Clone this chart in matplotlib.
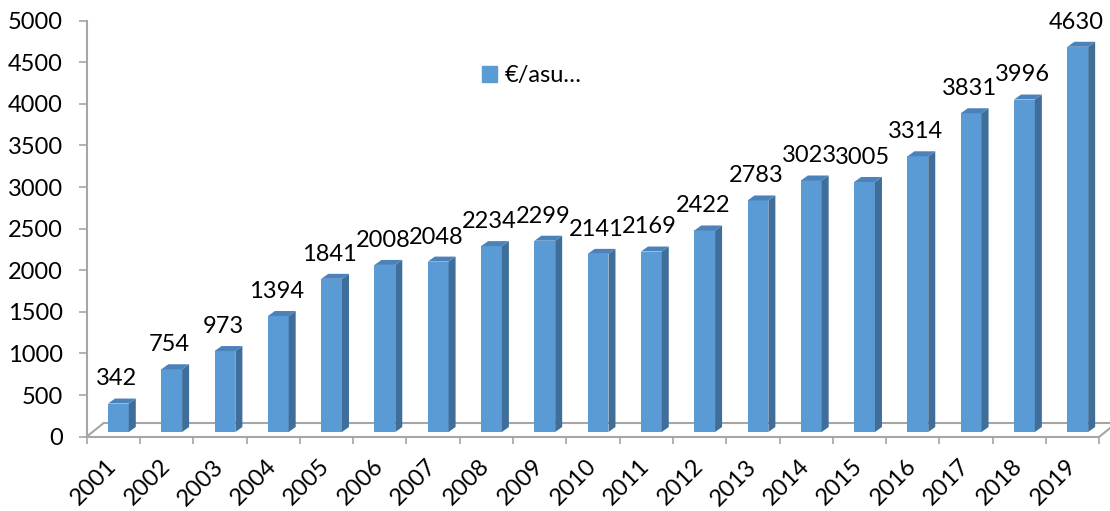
import matplotlib
matplotlib.use('Agg')
import matplotlib.pyplot as plt
from matplotlib.patches import Polygon, Patch
import numpy as np

plt.rcParams['font.family'] = ['Lato', 'DejaVu Sans']

# Data
years = ['2001', '2002', '2003', '2004', '2005', '2006', '2007', '2008', '2009', '2010',
         '2011', '2012', '2013', '2014', '2015', '2016', '2017', '2018', '2019']
values = [342, 754, 973, 1394, 1841, 2008, 2048, 2234, 2299, 2141,
          2169, 2422, 2783, 3023, 3005, 3314, 3831, 3996, 4630]
series_name = '€/asu…'
y_ticks = [0, 500, 1000, 1500, 2000, 2500, 3000, 3500, 4000, 4500, 5000]

# Colours
FRONT = '#5B9BD5'
SIDE = '#3F6E9A'
TOP = '#4C82BA'
GREY = '#A6A6A6'
FS = 17

n = len(years)
fig = plt.figure(figsize=(11.1, 5.11), dpi=100)
ax = fig.add_axes([0.0781, 0.1454, 0.9123, 0.8141])
ax.set_xlim(0, n)
ax.set_ylim(0, y_ticks[-1])

# pixel -> data unit factors (for the fake 3d depth)
pos = ax.get_position()
ux = n / (pos.width * fig.get_figwidth() * fig.dpi)
uy = y_ticks[-1] / (pos.height * fig.get_figheight() * fig.dpi)

# floor (thin parallelogram)
fdx, fdy = 17 * ux, 13.7 * uy
ax.plot([0, n], [0, 0], color=GREY, lw=1.5, clip_on=False, zorder=1)
ax.plot([fdx, n + fdx], [fdy, fdy], color=GREY, lw=1.5, clip_on=False, zorder=1)
ax.plot([0, fdx], [0, fdy], color=GREY, lw=1.5, clip_on=False, zorder=1)
ax.plot([n, n + fdx], [0, fdy], color=GREY, lw=1.5, clip_on=False, zorder=1)

# bars
base = 4.7 * uy
bw = 0.39
ddx, ddy = 7 * ux, 5 * uy
xl = np.arange(n) + 0.40
ax.bar(xl, values, width=bw, bottom=base, align='edge', color=FRONT, zorder=3)
for x0, v in zip(xl, values):
    xr = x0 + bw
    top = base + v
    ax.add_patch(Polygon([(xr, base), (xr, top), (xr + ddx, top + ddy), (xr + ddx, base + ddy)],
                         closed=True, facecolor=SIDE, edgecolor='none', zorder=3))
    ax.add_patch(Polygon([(x0, top), (xr, top), (xr + ddx, top + ddy), (x0 + ddx, top + ddy)],
                         closed=True, facecolor=TOP, edgecolor='none', zorder=3))
    ax.annotate(str(v), (x0 + bw / 2 - 2 * ux, top), xytext=(0, 13), textcoords='offset points',
                ha='center', va='baseline', fontsize=FS, color='black', zorder=4,
                annotation_clip=False)

# axes styling
for s in ['top', 'right', 'bottom']:
    ax.spines[s].set_visible(False)
ax.spines['left'].set_color(GREY)
ax.spines['left'].set_linewidth(1.5)

ax.set_yticks(y_ticks)
ax.tick_params(axis='y', length=5.8, width=1.2, color=GREY, pad=11.5, labelsize=FS)

ax.set_xticks(np.arange(n) + 0.5)
ax.set_xticklabels(years, rotation=45, ha='right', va='center', rotation_mode='anchor')
ax.set_xticks(np.arange(n + 1), minor=True)
ax.tick_params(axis='x', which='major', length=0, pad=19, labelsize=FS)
ax.tick_params(axis='x', which='minor', length=5, width=1.2, color=GREY)

ax.legend([Patch(color=FRONT)], [series_name], loc='center left',
          bbox_to_anchor=(482 / 1110, 1 - 75.5 / 511), bbox_transform=fig.transFigure,
          frameon=False, handlelength=0.64, handleheight=0.64, handletextpad=0.33,
          borderpad=0, borderaxespad=0, fontsize=FS)

fig.savefig('out.png', dpi=100)
